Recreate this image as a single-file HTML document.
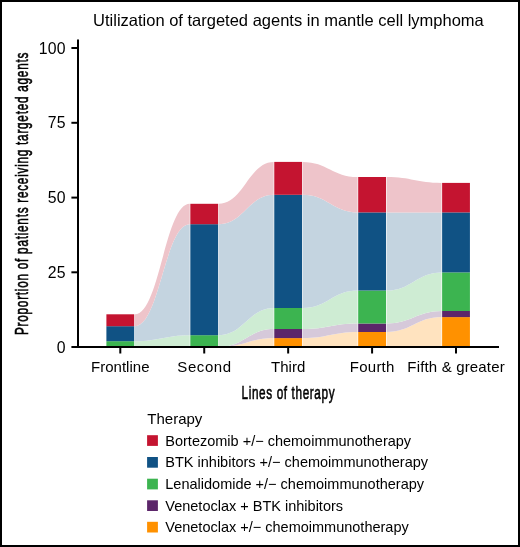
<!DOCTYPE html>
<html><head><meta charset="utf-8"><style>
html,body{margin:0;padding:0;background:#fff;}
body{width:520px;height:547px;overflow:hidden;position:relative;}
.frame{position:absolute;left:0;top:0;width:516px;height:543px;border:2px solid #000;}
svg{position:absolute;left:0;top:0;will-change:transform;}
text{font-family:"Liberation Sans",sans-serif;fill:#000;}
.t15{font-size:15px;}
.t16{font-size:15.8px;}
.title{font-size:16.5px;}
.leg{font-size:14.5px;}
.cond{font-size:19px;stroke:#000;stroke-width:0.6px;letter-spacing:1.2px;}
</style></head><body>
<div class="frame"></div>
<svg width="520" height="547" viewBox="0 0 520 547">
<g><path d="M134.80,341.20 C159.52,341.20 165.01,335.20 189.73,335.20 L189.73,347.00 C165.01,347.00 159.52,347.00 134.80,347.00 Z" fill="#CEECD3"/><path d="M134.80,326.20 C159.52,326.20 165.01,224.20 189.73,224.20 L189.73,335.20 C165.01,335.20 159.52,341.20 134.80,341.20 Z" fill="#C4D4E0"/><path d="M134.80,314.30 C159.52,314.30 165.01,203.80 189.73,203.80 L189.73,224.20 C165.01,224.20 159.52,326.20 134.80,326.20 Z" fill="#EEC4CA"/><path d="M218.73,347.00 C243.45,347.00 248.94,338.10 273.66,338.10 L273.66,347.00 C248.94,347.00 243.45,347.00 218.73,347.00 Z" fill="#FFE3BF"/><path d="M218.73,347.00 C243.45,347.00 248.94,329.00 273.66,329.00 L273.66,338.10 C248.94,338.10 243.45,347.00 218.73,347.00 Z" fill="#D6C9DA"/><path d="M218.73,335.20 C243.45,335.20 248.94,308.00 273.66,308.00 L273.66,329.00 C248.94,329.00 243.45,347.00 218.73,347.00 Z" fill="#CEECD3"/><path d="M218.73,224.20 C243.45,224.20 248.94,194.80 273.66,194.80 L273.66,308.00 C248.94,308.00 243.45,335.20 218.73,335.20 Z" fill="#C4D4E0"/><path d="M218.73,203.80 C243.45,203.80 248.94,161.90 273.66,161.90 L273.66,194.80 C248.94,194.80 243.45,224.20 218.73,224.20 Z" fill="#EEC4CA"/><path d="M302.66,338.10 C327.38,338.10 332.87,332.00 357.59,332.00 L357.59,347.00 C332.87,347.00 327.38,347.00 302.66,347.00 Z" fill="#FFE3BF"/><path d="M302.66,329.00 C327.38,329.00 332.87,323.50 357.59,323.50 L357.59,332.00 C332.87,332.00 327.38,338.10 302.66,338.10 Z" fill="#D6C9DA"/><path d="M302.66,308.00 C327.38,308.00 332.87,290.50 357.59,290.50 L357.59,323.50 C332.87,323.50 327.38,329.00 302.66,329.00 Z" fill="#CEECD3"/><path d="M302.66,194.80 C327.38,194.80 332.87,212.40 357.59,212.40 L357.59,290.50 C332.87,290.50 327.38,308.00 302.66,308.00 Z" fill="#C4D4E0"/><path d="M302.66,161.90 C327.38,161.90 332.87,177.00 357.59,177.00 L357.59,212.40 C332.87,212.40 327.38,194.80 302.66,194.80 Z" fill="#EEC4CA"/><path d="M386.59,332.00 C411.31,332.00 416.80,317.10 441.52,317.10 L441.52,347.00 C416.80,347.00 411.31,347.00 386.59,347.00 Z" fill="#FFE3BF"/><path d="M386.59,323.50 C411.31,323.50 416.80,311.00 441.52,311.00 L441.52,317.10 C416.80,317.10 411.31,332.00 386.59,332.00 Z" fill="#D6C9DA"/><path d="M386.59,290.50 C411.31,290.50 416.80,272.40 441.52,272.40 L441.52,311.00 C416.80,311.00 411.31,323.50 386.59,323.50 Z" fill="#CEECD3"/><path d="M386.59,212.40 C411.31,212.40 416.80,212.40 441.52,212.40 L441.52,272.40 C416.80,272.40 411.31,290.50 386.59,290.50 Z" fill="#C4D4E0"/><path d="M386.59,177.00 C411.31,177.00 416.80,182.90 441.52,182.90 L441.52,212.40 C416.80,212.40 411.31,212.40 386.59,212.40 Z" fill="#EEC4CA"/></g>
<g><rect x="106.40" y="341.20" width="27.80" height="5.80" fill="#3CB450"/><rect x="106.40" y="326.20" width="27.80" height="15.00" fill="#105284"/><rect x="106.40" y="314.30" width="27.80" height="11.90" fill="#C41430"/><rect x="190.33" y="335.20" width="27.80" height="11.80" fill="#3CB450"/><rect x="190.33" y="224.20" width="27.80" height="111.00" fill="#105284"/><rect x="190.33" y="203.80" width="27.80" height="20.40" fill="#C41430"/><rect x="274.26" y="338.10" width="27.80" height="8.90" fill="#FF9100"/><rect x="274.26" y="329.00" width="27.80" height="9.10" fill="#5C266A"/><rect x="274.26" y="308.00" width="27.80" height="21.00" fill="#3CB450"/><rect x="274.26" y="194.80" width="27.80" height="113.20" fill="#105284"/><rect x="274.26" y="161.90" width="27.80" height="32.90" fill="#C41430"/><rect x="358.19" y="332.00" width="27.80" height="15.00" fill="#FF9100"/><rect x="358.19" y="323.50" width="27.80" height="8.50" fill="#5C266A"/><rect x="358.19" y="290.50" width="27.80" height="33.00" fill="#3CB450"/><rect x="358.19" y="212.40" width="27.80" height="78.10" fill="#105284"/><rect x="358.19" y="177.00" width="27.80" height="35.40" fill="#C41430"/><rect x="442.12" y="317.10" width="27.80" height="29.90" fill="#FF9100"/><rect x="442.12" y="311.00" width="27.80" height="6.10" fill="#5C266A"/><rect x="442.12" y="272.40" width="27.80" height="38.60" fill="#3CB450"/><rect x="442.12" y="212.40" width="27.80" height="60.00" fill="#105284"/><rect x="442.12" y="182.90" width="27.80" height="29.50" fill="#C41430"/></g>
<g><line x1="78" y1="39.4" x2="78" y2="348" stroke="#000" stroke-width="2"/><line x1="77" y1="347" x2="499" y2="347" stroke="#000" stroke-width="2"/><line x1="71.4" y1="48.0" x2="78" y2="48.0" stroke="#000" stroke-width="2"/><text x="65.9" y="53.5" text-anchor="end" class="t16" letter-spacing="0.3">100</text><line x1="71.4" y1="122.8" x2="78" y2="122.8" stroke="#000" stroke-width="2"/><text x="65.9" y="128.3" text-anchor="end" class="t16" letter-spacing="0.3">75</text><line x1="71.4" y1="197.6" x2="78" y2="197.6" stroke="#000" stroke-width="2"/><text x="65.9" y="203.1" text-anchor="end" class="t16" letter-spacing="0.3">50</text><line x1="71.4" y1="272.3" x2="78" y2="272.3" stroke="#000" stroke-width="2"/><text x="65.9" y="277.8" text-anchor="end" class="t16" letter-spacing="0.3">25</text><line x1="71.4" y1="347.0" x2="78" y2="347.0" stroke="#000" stroke-width="2"/><text x="65.9" y="352.5" text-anchor="end" class="t16" letter-spacing="0.3">0</text><line x1="120.30" y1="347" x2="120.30" y2="353.5" stroke="#000" stroke-width="2"/><text x="120.30" y="372.1" text-anchor="middle" class="t15" letter-spacing="0">Frontline</text><line x1="204.23" y1="347" x2="204.23" y2="353.5" stroke="#000" stroke-width="2"/><text x="204.53" y="372.1" text-anchor="middle" class="t15" letter-spacing="0.6">Second</text><line x1="288.16" y1="347" x2="288.16" y2="353.5" stroke="#000" stroke-width="2"/><text x="288.16" y="372.1" text-anchor="middle" class="t15" letter-spacing="0">Third</text><line x1="372.09" y1="347" x2="372.09" y2="353.5" stroke="#000" stroke-width="2"/><text x="372.22" y="372.1" text-anchor="middle" class="t15" letter-spacing="0.25">Fourth</text><line x1="456.02" y1="347" x2="456.02" y2="353.5" stroke="#000" stroke-width="2"/><text x="456.10" y="372.1" text-anchor="middle" class="t15" letter-spacing="0.16">Fifth &amp; greater</text><text x="288.4" y="26.2" text-anchor="middle" class="title">Utilization of targeted agents in mantle cell lymphoma</text><text transform="translate(241.5,398.8) scale(0.62,1)" class="cond" style="letter-spacing:1.0px">Lines of therapy</text><text transform="translate(27.9,335.0) rotate(-90) scale(0.62,1)" class="cond">Proportion of patients receiving targeted agents</text></g>
<g><text x="147.3" y="423.5" class="leg" style="font-size:15px">Therapy</text><rect x="147.1" y="435.2" width="10.8" height="10.7" fill="#C41430"/><text x="165.3" y="445.5" class="leg">Bortezomib +/− chemoimmunotherapy</text><rect x="147.1" y="457.0" width="10.8" height="10.7" fill="#105284"/><text x="165.3" y="467.3" class="leg">BTK inhibitors +/− chemoimmunotherapy</text><rect x="147.1" y="478.7" width="10.8" height="10.7" fill="#3CB450"/><text x="165.3" y="489.0" class="leg">Lenalidomide +/− chemoimmunotherapy</text><rect x="147.1" y="500.3" width="10.8" height="10.7" fill="#5C266A"/><text x="165.3" y="510.6" class="leg">Venetoclax + BTK inhibitors</text><rect x="147.1" y="521.8" width="10.8" height="10.7" fill="#FF9100"/><text x="165.3" y="532.1" class="leg">Venetoclax +/− chemoimmunotherapy</text></g>
</svg>
</body></html>
